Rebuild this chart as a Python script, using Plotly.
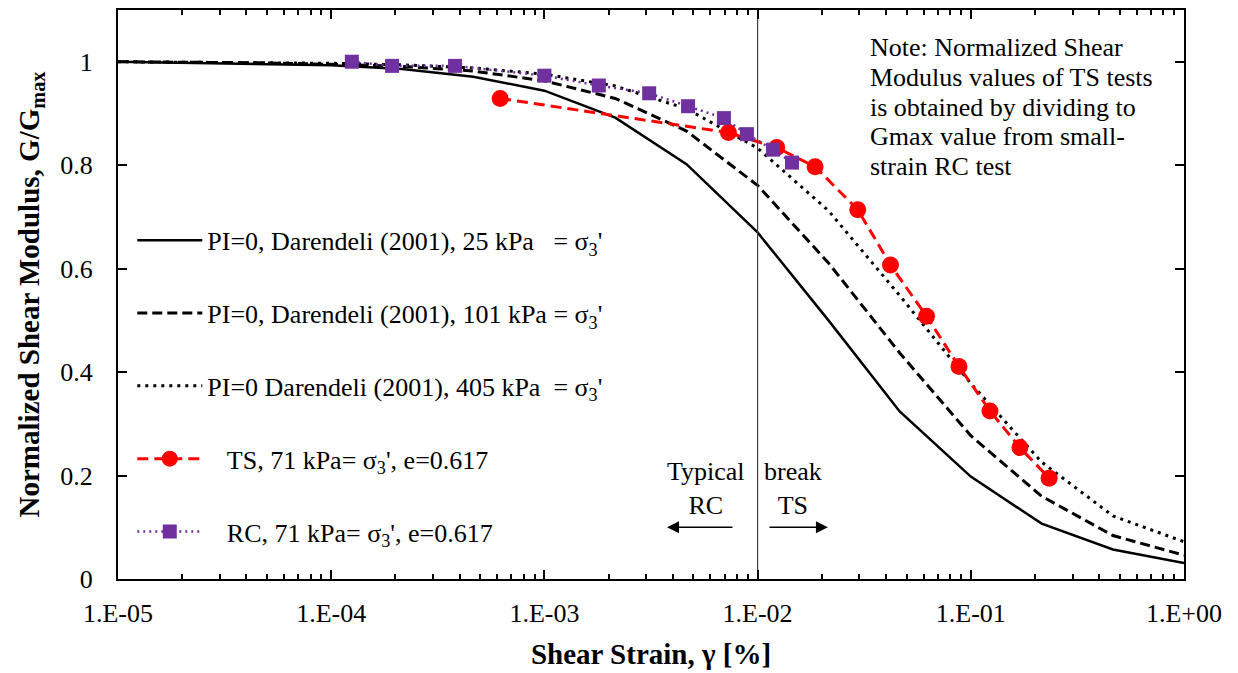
import math
import plotly.graph_objects as go

# ---------------- data ----------------
strain = [1e-5, 2.15e-5, 4.64e-5, 1e-4, 2.15e-4, 4.64e-4, 1e-3, 2.15e-3, 4.64e-3,
          1e-2, 2.15e-2, 4.64e-2, 1e-1, 2.15e-1, 4.64e-1, 1.0]
g_25kpa = [1.0, 0.998, 0.996, 0.993, 0.986, 0.971, 0.944, 0.892, 0.802,
           0.670, 0.500, 0.324, 0.198, 0.107, 0.057, 0.031]
g_101kpa = [1.0, 0.999, 0.998, 0.995, 0.991, 0.982, 0.963, 0.929, 0.866,
            0.761, 0.611, 0.437, 0.277, 0.160, 0.084, 0.046]
g_405kpa = [1.0, 0.999, 0.999, 0.997, 0.994, 0.988, 0.976, 0.953, 0.909,
            0.833, 0.712, 0.548, 0.378, 0.226, 0.122, 0.072]

ts_strain = [6.2e-4, 7.3e-3, 1.23e-2, 1.86e-2, 2.95e-2, 4.2e-2, 6.2e-2,
             8.8e-2, 1.23e-1, 1.70e-1, 2.33e-1]
ts_g = [0.929, 0.863, 0.834, 0.797, 0.714, 0.607, 0.508, 0.411, 0.325, 0.254, 0.195]

rc_strain = [1.25e-4, 1.93e-4, 3.81e-4, 1.0e-3, 1.80e-3, 3.10e-3, 4.72e-3,
             6.95e-3, 8.91e-3, 1.18e-2, 1.45e-2]
rc_g = [1.0, 0.992, 0.992, 0.973, 0.954, 0.939, 0.914, 0.891, 0.860, 0.830, 0.805]

boundary_strain = 0.01
x_tickvals = [1e-5, 1e-4, 1e-3, 1e-2, 1e-1, 1.0]
x_ticktext = ["1.E-05", "1.E-04", "1.E-03", "1.E-02", "1.E-01", "1.E+00"]
y_tickvals = [0, 0.2, 0.4, 0.6, 0.8, 1.0]
y_ticktext = ["0", "0.2", "0.4", "0.6", "0.8", "1"]

note_lines = ["Note: Normalized Shear", "Modulus values of TS tests",
              "is obtained by dividing to", "Gmax value from small-", "strain RC test"]

FONT = "Liberation Serif"
FS = 26
TFS = 29
NB = "\u00a0"
SIG = "σ<sub>3</sub>'"

fig = go.Figure()

fig.add_trace(go.Scatter(x=strain, y=g_25kpa, mode="lines",
                         line=dict(color="black", width=2.5),
                         name=f"PI=0, Darendeli (2001), 25 kPa{NB}{NB} = {SIG}",
                         legendgroup="a"))
fig.add_trace(go.Scatter(x=strain, y=g_101kpa, mode="lines",
                         line=dict(color="black", width=3, dash="10px,5px"),
                         name=f"PI=0, Darendeli (2001), 101 kPa = {SIG}",
                         legendgroup="b"))
fig.add_trace(go.Scatter(x=strain, y=g_405kpa, mode="lines",
                         line=dict(color="black", width=3, dash="3px,5px"),
                         name=f"PI=0 Darendeli (2001), 405 kPa{NB} = {SIG}",
                         legendgroup="c"))
fig.add_trace(go.Scatter(x=[boundary_strain, boundary_strain], y=[0, 1.1], mode="lines",
                         line=dict(color="#404040", width=1.2), showlegend=False,
                         hoverinfo="skip"))
fig.add_trace(go.Scatter(x=ts_strain, y=ts_g, mode="lines+markers",
                         line=dict(color="#FF0000", width=3, dash="11px,6px"),
                         marker=dict(symbol="circle", size=17, color="#FF0000"),
                         name=f"{NB}{NB}{NB}TS, 71 kPa= {SIG}, e=0.617",
                         legendgroup="d"))
fig.add_trace(go.Scatter(x=rc_strain, y=rc_g, mode="lines+markers",
                         line=dict(color="#7030A0", width=2.5, dash="2px,4px"),
                         marker=dict(symbol="square", size=14, color="#7030A0"),
                         name=f"{NB}{NB}{NB}RC, 71 kPa= {SIG}, e=0.617",
                         legendgroup="e"))

# note text
for i, t in enumerate(note_lines):
    fig.add_annotation(xref="paper", yref="paper", x=0.7035,
                       y=(1.1 - (46 + 30 * i - 8) / 522) / 1.1,
                       text=t, showarrow=False, xanchor="left", yanchor="middle",
                       font=dict(family=FONT, size=FS, color="black"))

# arrows and region labels
fig.add_annotation(x=-2.425, y=0.1, ax=67, ay=0, text="", showarrow=True,
                   arrowhead=2, arrowsize=1.6, arrowwidth=1.5, arrowcolor="black")
fig.add_annotation(x=-1.670, y=0.1, ax=-60, ay=0, text="", showarrow=True,
                   arrowhead=2, arrowsize=1.6, arrowwidth=1.5, arrowcolor="black")
fig.add_annotation(x=-2.242, y=0.174, text="Typical<br>RC", showarrow=False,
                   font=dict(family=FONT, size=FS, color="black"))
fig.add_annotation(x=-1.834, y=0.174, text="break<br>TS", showarrow=False,
                   font=dict(family=FONT, size=FS, color="black"))

axis_common = dict(showline=True, linecolor="black", linewidth=2, mirror="ticks",
                   ticks="inside", tickcolor="black", tickwidth=2, ticklen=9,
                   showgrid=False, zeroline=False,
                   tickfont=dict(family=FONT, size=FS, color="black"))

fig.update_xaxes(type="log", range=[-5, 0], tickvals=x_tickvals, ticktext=x_ticktext,
                 ticklabelstandoff=10,
                 minor=dict(ticks="inside", ticklen=5, tickcolor="black", tickwidth=1.5,
                            dtick="D1", showgrid=False),
                 title=dict(text="<b>Shear Strain, γ [%]</b>",
                            font=dict(family=FONT, size=TFS, color="black"), standoff=16),
                 **axis_common)
fig.update_yaxes(range=[0, 1.1], tickvals=y_tickvals, ticktext=y_ticktext,
                 ticklabelstandoff=18,
                 title=dict(text="<b>Normalized Shear Modulus, G/G<sub>max</sub></b>",
                            font=dict(family=FONT, size=TFS, color="black"), standoff=12),
                 **axis_common)

fig.update_layout(
    width=1238, height=673,
    margin=dict(l=118, r=54, t=8, b=91),
    paper_bgcolor="white", plot_bgcolor="white",
    font=dict(family=FONT, size=FS, color="black"),
    showlegend=True,
    legend=dict(x=0.0134, y=0.6365, xanchor="left", yanchor="top",
                bgcolor="rgba(0,0,0,0)", borderwidth=0,
                traceorder="grouped", tracegroupgap=36, itemwidth=65,
                font=dict(family=FONT, size=FS, color="black")),
)

fig.write_html("out.html")
